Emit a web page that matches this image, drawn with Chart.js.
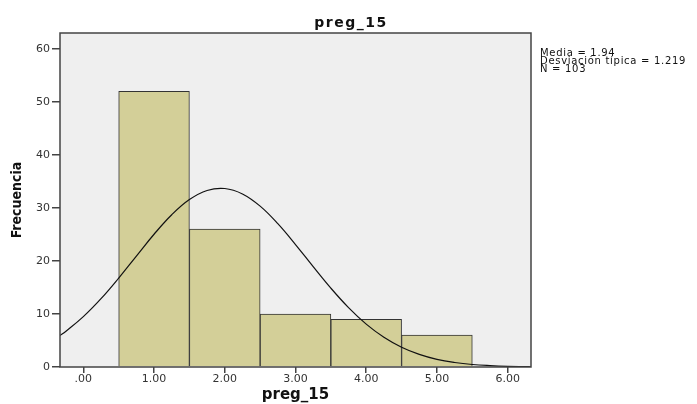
<!DOCTYPE html>
<html>
<head>
<meta charset="utf-8">
<script src="https://cdn.jsdelivr.net/npm/chart.js@4/dist/chart.umd.min.js"></script>
<style>
  html, body { margin: 0; padding: 0; background: #fff; }
  #wrap { width: 697px; height: 404px; }
</style>
</head>
<body>
<div id="wrap"><canvas id="chart" width="697" height="404"></canvas></div>
<script>
const title = "preg_15";
const yTitle = "Frecuencia";
const stats = ["Media = 1.94", "Desviación típica = 1.219", "N = 103"];

// histogram bins (centre of each bin) and their counts
const binCenters = [1, 2, 3, 4, 5];
const counts = [52, 26, 10, 9, 6];

// normal curve points
const curveX = [-0.33, -0.25, 0, 0.25, 0.5, 0.75, 1, 1.25, 1.5, 1.75, 2, 2.25, 2.5, 2.75,
  3, 3.25, 3.5, 3.75, 4, 4.25, 4.5, 4.75, 5, 5.25, 5.5, 5.75, 6, 6.25, 6.33];
const curveY = [5.95, 6.71, 9.5, 12.89, 16.78, 20.93, 25.04, 28.72, 31.58, 33.3, 33.67, 32.64, 30.34, 27.03,
  23.1, 18.93, 14.87, 11.2, 8.08, 5.6, 3.72, 2.37, 1.44, 0.85, 0.47, 0.26, 0.13, 0.07, 0.05];

const xTicks = [0, 1, 2, 3, 4, 5, 6];
const xTickLabels = [".00", "1.00", "2.00", "3.00", "4.00", "5.00", "6.00"];
const yTicks = [0, 10, 20, 30, 40, 50, 60];
const yTickLabels = ["0", "10", "20", "30", "40", "50", "60"];

const tickFont = { family: "DejaVu Sans", size: 11 };
const tickColor = "#333";

// grey plot panel, frame, chart title and the stats block
const frame = {
  id: "frame",
  beforeDraw(chart) {
    const { ctx, chartArea: a } = chart;
    ctx.save();
    ctx.fillStyle = "#efefef";
    ctx.fillRect(a.left, a.top, a.right - a.left, a.bottom - a.top);
    ctx.restore();
  },
  afterDraw(chart) {
    const { ctx, chartArea: a } = chart;
    ctx.save();
    ctx.strokeStyle = "#444";
    ctx.lineWidth = 1.5;
    ctx.strokeRect(a.left, a.top, a.right - a.left, a.bottom - a.top);

    ctx.fillStyle = "#111";
    ctx.textAlign = "center";
    ctx.textBaseline = "alphabetic";
    ctx.font = "bold 14px 'DejaVu Sans'";
    ctx.letterSpacing = "1.5px";
    ctx.fillText(title, 351, 27);

    ctx.textAlign = "left";
    ctx.font = "10px 'DejaVu Sans'";
    ctx.letterSpacing = "0.7px";
    stats.forEach((line, i) => ctx.fillText(line, 540, 55.5 + i * 8));
    ctx.restore();
  }
};

const config = {
  type: "bar",
  data: {
    datasets: [
      {
        type: "line",
        data: curveX.map((x, i) => ({ x: x, y: curveY[i] })),
        borderColor: "#111",
        borderWidth: 1.2,
        pointRadius: 0,
        fill: false,
        tension: 0.4,
        order: 0
      },
      {
        type: "bar",
        data: binCenters.map((x, i) => ({ x: x, y: counts[i] })),
        backgroundColor: "#d3cf98",
        borderColor: "#333",
        borderWidth: 1,
        barPercentage: 1,
        categoryPercentage: 1,
        order: 1
      }
    ]
  },
  options: {
    responsive: false,
    animation: false,
    devicePixelRatio: 1,
    layout: { padding: { top: 33, right: 166, left: 0, bottom: 0 } },
    plugins: { legend: { display: false }, tooltip: { enabled: false } },
    scales: {
      x: {
        type: "linear",
        offset: false,
        min: -0.33,
        max: 6.33,
        afterBuildTicks: (s) => { s.ticks = xTicks.map((v) => ({ value: v })); },
        afterFit: (s) => { s.height = 37; },
        ticks: {
          callback: (v, i) => xTickLabels[i],
          font: tickFont,
          color: tickColor,
          padding: 0,
          maxRotation: 0,
          autoSkip: false
        },
        grid: { offset: false, drawOnChartArea: false, tickLength: 6, color: "#444", lineWidth: 1.5 },
        border: { display: false },
        title: {
          display: true,
          text: title,
          color: "#111",
          font: { family: "DejaVu Sans", size: 15, weight: "bold" },
          padding: { top: 0, bottom: 0 }
        }
      },
      y: {
        min: 0,
        max: 63,
        afterBuildTicks: (s) => { s.ticks = yTicks.map((v) => ({ value: v })); },
        afterFit: (s) => { s.width = 60; },
        ticks: {
          callback: (v, i) => yTickLabels[i],
          font: tickFont,
          color: tickColor,
          padding: 2,
          autoSkip: false
        },
        grid: { drawOnChartArea: false, tickLength: 8, color: "#444", lineWidth: 1.5 },
        border: { display: false },
        title: {
          display: true,
          text: yTitle,
          color: "#111",
          font: { family: "'Liberation Sans Narrow', 'DejaVu Sans Condensed', sans-serif", size: 14, weight: "bold" },
          padding: { top: 9, bottom: 0 }
        }
      }
    }
  },
  plugins: [frame]
};

new Chart(document.getElementById("chart"), config);
</script>
</body>
</html>
